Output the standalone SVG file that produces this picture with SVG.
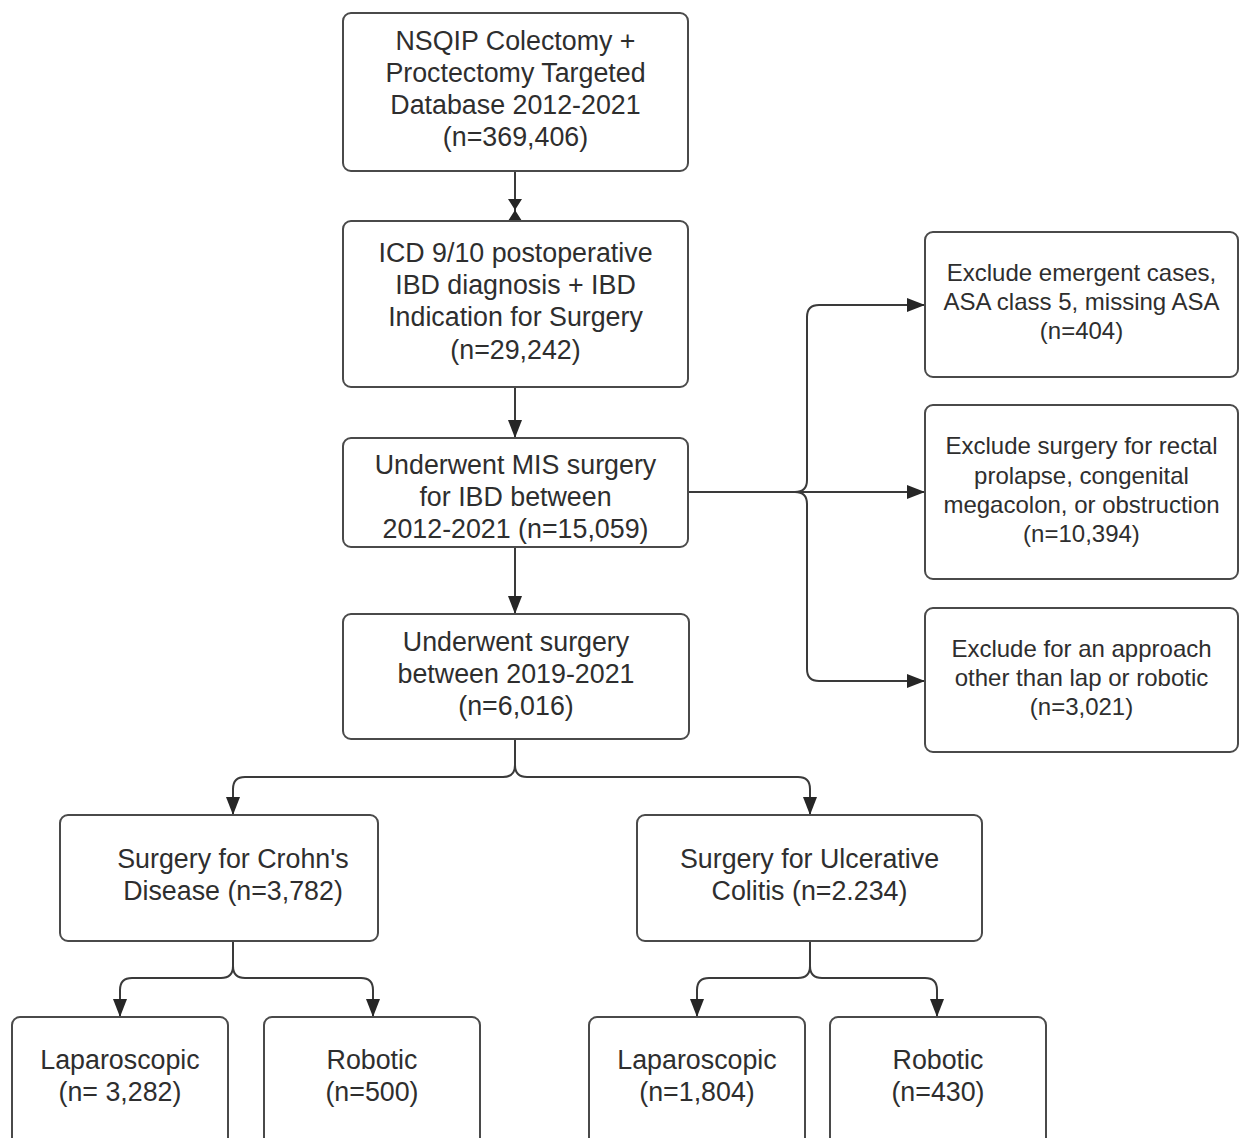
<svg xmlns="http://www.w3.org/2000/svg" width="1249" height="1138" viewBox="0 0 1249 1138">
<defs>
<style>
.box{fill:#ffffff;stroke:#4a4a4a;stroke-width:2}
.t{font-family:"Liberation Sans",Arial,sans-serif;font-size:26.8px;fill:#2e2e2e;text-anchor:middle}
.s{font-family:"Liberation Sans",Arial,sans-serif;font-size:24px;fill:#2e2e2e;text-anchor:middle}
.c{fill:none;stroke:#3a3a3a;stroke-width:2}
</style>
<marker id="ah" viewBox="0 0 18 14" refX="18" refY="7" markerWidth="18" markerHeight="14" markerUnits="userSpaceOnUse" orient="auto">
<path d="M0,0 L18,7 L0,14 Z" fill="#262626"/>
</marker>
</defs>
<rect width="1249" height="1138" fill="#ffffff"/>
<g id="connectors">
<path class="c" d="M515,172 V212"/>
<polygon points="508,199 522,199 515,210 522,221 508,221 515,210" fill="#262626"/>
<path class="c" d="M515,387 V438" marker-end="url(#ah)"/>
<path class="c" d="M515,547 V614" marker-end="url(#ah)"/>
<path class="c" d="M688,492 H925" marker-end="url(#ah)"/>
<path class="c" d="M795,492 Q807,492 807,480 V317 Q807,305 819,305 H925" marker-end="url(#ah)"/>
<path class="c" d="M795,492 Q807,492 807,504 V669 Q807,681 819,681 H925" marker-end="url(#ah)"/>
<path class="c" d="M515,739 V765 Q515,777 503,777 H245 Q233,777 233,789 V815" marker-end="url(#ah)"/>
<path class="c" d="M515,765 Q515,777 527,777 H798 Q810,777 810,789 V815" marker-end="url(#ah)"/>
<path class="c" d="M233,941 V966 Q233,978 221,978 H132 Q120,978 120,990 V1017" marker-end="url(#ah)"/>
<path class="c" d="M233,966 Q233,978 245,978 H361 Q373,978 373,990 V1017" marker-end="url(#ah)"/>
<path class="c" d="M810,941 V966 Q810,978 798,978 H709 Q697,978 697,990 V1017" marker-end="url(#ah)"/>
<path class="c" d="M810,966 Q810,978 822,978 H925 Q937,978 937,990 V1017" marker-end="url(#ah)"/>
</g>
<g id="n1">
<rect class="box" x="343" y="13" width="345" height="158" rx="8"/>
<text class="t" x="515.5" y="50">NSQIP Colectomy +</text>
<text class="t" x="515.5" y="82">Proctectomy Targeted</text>
<text class="t" x="515.5" y="114">Database 2012-2021</text>
<text class="t" x="515.5" y="146">(n=369,406)</text>
</g>
<g id="n2">
<rect class="box" x="343" y="221" width="345" height="166" rx="8"/>
<text class="t" x="515.5" y="262">ICD 9/10 postoperative</text>
<text class="t" x="515.5" y="294">IBD diagnosis + IBD</text>
<text class="t" x="515.5" y="326">Indication for Surgery</text>
<text class="t" x="515.5" y="359">(n=29,242)</text>
</g>
<g id="n3">
<rect class="box" x="343" y="438" width="345" height="109" rx="8"/>
<text class="t" x="515.5" y="474">Underwent MIS surgery</text>
<text class="t" x="515.5" y="506">for IBD between</text>
<text class="t" x="515.5" y="538">2012-2021 (n=15,059)</text>
</g>
<g id="n4">
<rect class="box" x="343" y="614" width="346" height="125" rx="8"/>
<text class="t" x="516" y="651">Underwent surgery</text>
<text class="t" x="516" y="683">between 2019-2021</text>
<text class="t" x="516" y="715">(n=6,016)</text>
</g>
<g id="r1">
<rect class="box" x="925" y="232" width="313" height="145" rx="8"/>
<text class="s" x="1081.5" y="281">Exclude emergent cases,</text>
<text class="s" x="1081.5" y="310">ASA class 5, missing ASA</text>
<text class="s" x="1081.5" y="339">(n=404)</text>
</g>
<g id="r2">
<rect class="box" x="925" y="405" width="313" height="174" rx="8"/>
<text class="s" x="1081.5" y="454">Exclude surgery for rectal</text>
<text class="s" x="1081.5" y="484">prolapse, congenital</text>
<text class="s" x="1081.5" y="513">megacolon, or obstruction</text>
<text class="s" x="1081.5" y="542">(n=10,394)</text>
</g>
<g id="r3">
<rect class="box" x="925" y="608" width="313" height="144" rx="8"/>
<text class="s" x="1081.5" y="657">Exclude for an approach</text>
<text class="s" x="1081.5" y="686">other than lap or robotic</text>
<text class="s" x="1081.5" y="715">(n=3,021)</text>
</g>
<g id="crohns">
<rect class="box" x="60" y="815" width="318" height="126" rx="8"/>
<text class="t" x="233" y="868">Surgery for Crohn's</text>
<text class="t" x="233" y="900">Disease (n=3,782)</text>
</g>
<g id="uc">
<rect class="box" x="637" y="815" width="345" height="126" rx="8"/>
<text class="t" x="809.5" y="868">Surgery for Ulcerative</text>
<text class="t" x="809.5" y="900">Colitis (n=2.234)</text>
</g>
<g id="lap1">
<rect class="box" x="12" y="1017" width="216" height="130" rx="8"/>
<text class="t" x="120" y="1069">Laparoscopic</text>
<text class="t" x="120" y="1101">(n= 3,282)</text>
</g>
<g id="rob1">
<rect class="box" x="264" y="1017" width="216" height="130" rx="8"/>
<text class="t" x="372" y="1069">Robotic</text>
<text class="t" x="372" y="1101">(n=500)</text>
</g>
<g id="lap2">
<rect class="box" x="589" y="1017" width="216" height="130" rx="8"/>
<text class="t" x="697" y="1069">Laparoscopic</text>
<text class="t" x="697" y="1101">(n=1,804)</text>
</g>
<g id="rob2">
<rect class="box" x="830" y="1017" width="216" height="130" rx="8"/>
<text class="t" x="938" y="1069">Robotic</text>
<text class="t" x="938" y="1101">(n=430)</text>
</g>
</svg>
